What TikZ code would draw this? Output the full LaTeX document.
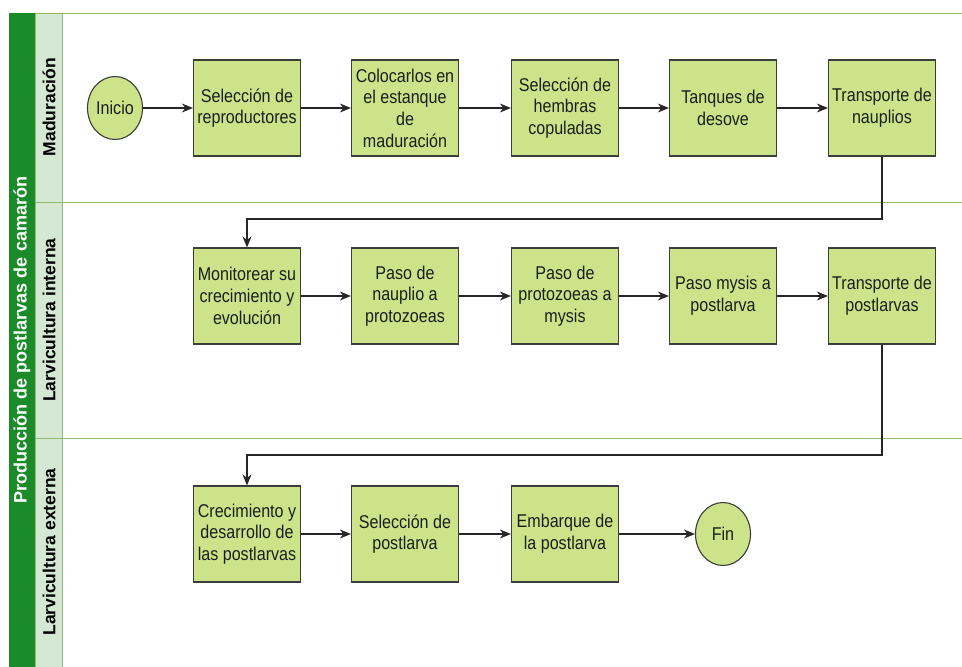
\documentclass[tikz,border=0pt]{standalone}
\usepackage{fontspec}
\setmainfont{Liberation Sans}
\newfontfamily\boxfont[FakeStretch=0.87]{Liberation Sans}
\usetikzlibrary{arrows.meta,shapes.geometric}
\definecolor{pooldark}{HTML}{1B8B2A}
\definecolor{lanefill}{HTML}{D5E8D4}
\definecolor{laneline}{HTML}{8DBB72}
\definecolor{boxfill}{HTML}{CDE38A}
\definecolor{boxline}{HTML}{3A3D3A}
\definecolor{txt}{HTML}{1A1F1A}
\tikzset{
  procbox/.style={draw=boxline, line width=1.2pt, fill=boxfill, rectangle,
    minimum width=107pt, minimum height=96pt, inner sep=2pt, align=center,
    text=txt, font=\boxfont\fontsize{18.5}{21.7}\selectfont},
  termnode/.style={draw=boxline, line width=1.1pt, fill=boxfill, ellipse,
    minimum width=55pt, minimum height=63pt, inner sep=0pt, align=center,
    text=txt, font=\boxfont\fontsize{18.5}{21.7}\selectfont},
  flow/.style={draw=black!85, line width=1.3pt, -{Stealth[length=11pt,width=9pt]}},
  lanehdr/.style={draw=laneline, line width=1pt, fill=lanefill},
  lanetitle/.style={rotate=90, font=\bfseries\fontsize{17.5}{20}\selectfont, text=black},
  pooltitle/.style={rotate=90, font=\bfseries\fontsize{18}{20}\selectfont, text=white}
}
\begin{document}
\begin{tikzpicture}[x=1pt,y=-1pt]
\useasboundingbox (0,0) rectangle (962,667);
\fill[white] (0,0) rectangle (962,667);
% pool and lanes
\fill[pooldark] (9,13) rectangle (35,668);
\draw[lanehdr] (35,13) rectangle (62,202);
\draw[lanehdr] (35,202) rectangle (62,438);
\draw[lanehdr] (35,438) rectangle (62,668);
\draw[laneline, line width=1pt] (62,13) -- (962,13);
\draw[laneline, line width=1pt] (62,202) -- (962,202);
\draw[laneline, line width=1pt] (62,438) -- (962,438);
\node[pooltitle] (pool) at (22,340) {Producción de postlarvas de camarón};
\node[lanetitle] (l1) at (49,107) {Maduración};
\node[lanetitle] (l2) at (49,320) {Larvicultura interna};
\node[lanetitle] (l3) at (49,552) {Larvicultura externa};
% row 1
\node[termnode] (inicio) at (115,108) {Inicio};
\node[procbox] (a1) at (247,108) {Selección de\\reproductores};
\node[procbox] (a2) at (405,108) {Colocarlos en\\el estanque\\de\\maduración};
\node[procbox] (a3) at (565,108) {Selección de\\hembras\\copuladas};
\node[procbox] (a4) at (723,108) {Tanques de\\desove};
\node[procbox] (a5) at (882,108) {Transporte de\\nauplios};
% row 2
\node[procbox] (b1) at (247,296) {Monitorear su\\crecimiento y\\evolución};
\node[procbox] (b2) at (405,296) {Paso de\\nauplio a\\protozoeas};
\node[procbox] (b3) at (565,296) {Paso de\\protozoeas a\\mysis};
\node[procbox] (b4) at (723,296) {Paso mysis a\\postlarva};
\node[procbox] (b5) at (882,296) {Transporte de\\postlarvas};
% row 3
\node[procbox] (c1) at (247,534) {Crecimiento y\\desarrollo de\\las postlarvas};
\node[procbox] (c2) at (405,534) {Selección de\\postlarva};
\node[procbox] (c3) at (565,534) {Embarque de\\la postlarva};
\node[termnode] (fin) at (723,534) {Fin};
% connectors
\coordinate (k1) at (0,219);
\coordinate (k2) at (0,455);
\draw[flow] (inicio) -- (a1);
\draw[flow] (a1) -- (a2);
\draw[flow] (a2) -- (a3);
\draw[flow] (a3) -- (a4);
\draw[flow] (a4) -- (a5);
\draw[flow] (a5.south) -- (a5.south |- k1) -| (b1.north);
\draw[flow] (b1) -- (b2);
\draw[flow] (b2) -- (b3);
\draw[flow] (b3) -- (b4);
\draw[flow] (b4) -- (b5);
\draw[flow] (b5.south) -- (b5.south |- k2) -| (c1.north);
\draw[flow] (c1) -- (c2);
\draw[flow] (c2) -- (c3);
\draw[flow] (c3) -- (fin);
\end{tikzpicture}
\end{document}
